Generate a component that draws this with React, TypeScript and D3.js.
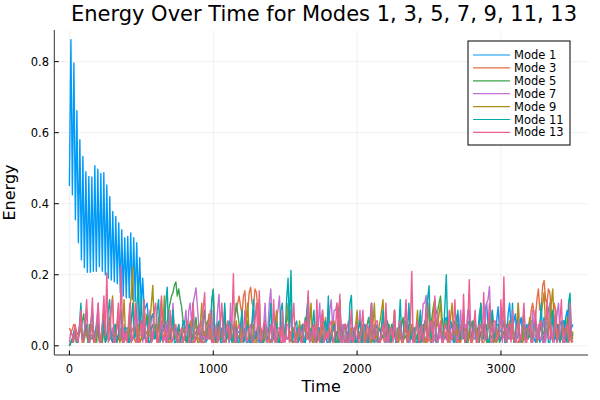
import React from 'react';
import * as d3 from 'd3';

const TITLE = 'Energy Over Time for Modes 1, 3, 5, 7, 9, 11, 13';
const X_LABEL = 'Time';
const Y_LABEL = 'Energy';
const X_TICKS = [0, 1000, 2000, 3000];
const Y_TICKS = [0, 0.2, 0.4, 0.6, 0.8];
const MODE_NAMES = ['Mode 1', 'Mode 3', 'Mode 5', 'Mode 7', 'Mode 9', 'Mode 11', 'Mode 13'];
const COLORS = ['#009AF9', '#E26F46', '#3DA44D', '#C371D2', '#AC8E18', '#00AAAE', '#ED5E93'];

// sampling of the time axis
const STEP = 10; // time units between samples (modes 3..13 and late mode 1)
const MODE1_EARLY_STEP = 10.4;
const MODE1_LATE_START = 540;

// Mode 1: early strongly oscillating phase (t = 0 .. 520)
const MODE1_EARLY = [
  0.45, 0.862, 0.425, 0.796, 0.355, 0.662, 0.29, 0.58, 0.242, 0.533,
  0.22, 0.49, 0.207, 0.477, 0.207, 0.475, 0.21, 0.507, 0.21, 0.497,
  0.223, 0.485, 0.21, 0.487, 0.2, 0.453, 0.19, 0.42, 0.185, 0.378,
  0.18, 0.364, 0.175, 0.346, 0.15, 0.327, 0.14, 0.304, 0.135, 0.308,
  0.135, 0.318, 0.13, 0.304, 0.125, 0.29, 0.12, 0.248, 0.11, 0.19, 0.1,
];
// Mode 1: late phase (t = 540 .. 3500)
const MODE1_LATE = [
  .12,.07,.04,.08,.09,.03,.02,.05,.06,.02,.03,.04,.05,.02,.01,.03,.04,.01,.02,.04,
  .05,.02,.01,.03,.03,.01,.02,.04,.04,.01,.01,.03,.03,.01,.02,.04,.05,.02,.01,.03,.03,.01,.02,.04,.04,.02,.01,.03,.03,.01,.02,.04,.05,.02,.01,.03,.04,.01,.02,.03,
  .03,.01,.01,.04,.04,.02,.02,.03,.05,.01,.01,.03,.03,.01,.02,.04,.04,.02,.01,.03,.03,.01,.02,.04,.05,.02,.01,.03,.04,.01,.02,.03,.03,.01,.01,.04,.05,.02,.02,.03,
  .04,.01,.01,.03,.03,.01,.02,.04,.05,.02,.01,.03,.04,.01,.02,.03,.03,.01,.01,.04,.05,.02,.02,.03,.04,.01,.01,.03,.03,.01,.02,.04,.04,.02,.01,.03,.05,.01,.02,.04,
  .03,.01,.01,.04,.05,.02,.02,.03,.04,.01,.01,.03,.03,.01,.02,.05,.06,.02,.01,.03,.04,.01,.02,.04,.05,.02,.01,.03,.03,.01,.02,.04,.04,.01,.01,.05,.06,.02,.02,.04,
  .04,.01,.01,.04,.05,.02,.02,.03,.03,.01,.01,.05,.06,.02,.02,.04,.04,.01,.01,.06,.07,.03,.02,.05,.05,.02,.03,.07,.08,.03,.02,.05,.06,.02,.03,.08,.09,.04,.02,.06,
  .07,.02,.03,.08,.1,.04,.02,.06,.08,.03,.04,.09,.11,.05,.03,.1,.12,.06,.05,.08,.09,.03,.02,.07,.11,.04,.04,.08,.1,.03,.03,.09,.12,.05,.05,.07,.09,.02,.03,.06,
  .08,.03,.02,.05,.06,.02,.03,.07,.07,.02,.01,.04,.05,.01,.02,.06,.08,.03,.03,.05,.06,.02,.02,.07,.09,.04,.03,.06,.07,.02,.02,.08,.1,.04,.03,.05,.06,
];
const MODE3 = [
  .05,.04,.045,.06,.055,.04,.03,.05,.04,.03,.02,.04,.05,.02,.01,.03,.03,.01,.02,.04,.04,.01,.01,.03,.03,.01,.02,.04,.05,.02,.01,.03,.04,.01,.02,.03,.03,.01,.01,.02,
  .03,.01,.02,.04,.05,.02,.01,.03,.04,.01,.02,.05,.06,.02,.01,.03,.03,.01,.02,.04,.05,.01,.01,.03,.04,.01,.02,.03,.03,.01,.01,.04,.05,.02,.02,.03,.04,.01,.01,.02,
  .03,.01,.02,.04,.05,.01,.01,.03,.04,.02,.02,.03,.03,.01,.01,.04,.05,.02,.02,.03,.04,.01,.01,.05,.06,.02,.02,.04,.03,.06,.05,.02,.02,.06,.04,.08,.1,.12,.14,.11,
  .09,.14,.155,.08,.1,.15,.165,.12,.11,.16,.15,.1,.07,.05,.04,.02,.02,.04,.05,.01,.01,.03,.04,.01,.02,.04,.03,.01,.01,.04,.05,.02,.02,.03,.04,.01,.01,.02,.03,.01,
  .05,.02,.02,.06,.04,.08,.1,.05,.03,.01,.06,.02,.01,.03,.04,.01,.02,.05,.08,.03,.03,.01,.05,.02,.01,.03,.04,.01,.02,.04,.06,.02,.01,.03,.03,.01,.02,.04,.05,.02,
  .01,.03,.04,.01,.02,.03,.03,.01,.01,.04,.05,.02,.02,.03,.04,.01,.01,.02,.03,.01,.02,.04,.06,.02,.01,.03,.04,.01,.02,.03,.03,.01,.01,.04,.05,.01,.02,.03,.04,.01,
  .01,.02,.03,.01,.02,.04,.05,.02,.01,.03,.04,.01,.02,.03,.03,.01,.01,.04,.05,.02,.02,.03,.04,.01,.01,.02,.03,.01,.02,.05,.06,.02,.01,.03,.04,.01,.02,.04,.03,.01,
  .01,.03,.05,.02,.02,.03,.04,.01,.01,.02,.03,.01,.02,.04,.05,.02,.01,.03,.04,.01,.02,.03,.03,.01,.01,.04,.06,.02,.02,.03,.04,.01,.01,.02,.03,.01,.02,.04,.05,.03,
  .06,.1,.12,.09,.08,.13,.16,.1,.11,.17,.184,.13,.12,.16,.15,.09,.07,.12,.1,.05,.03,.02,.05,.01,.01,.03,.04,.01,.02,.04,.03,
];
const MODE5 = [
  0,.01,.01,.02,.03,.01,.02,.04,.05,.07,.09,.03,.03,.01,.06,.02,.02,.04,.04,.01,.07,.02,.03,.01,.05,.02,.02,.05,.08,.02,.04,.01,.06,.02,.03,.01,.05,.02,.02,.04,
  .04,.01,.06,.02,.02,.04,.05,.01,.03,.05,.07,.02,.04,.06,.09,.03,.05,.02,.03,.05,.06,.03,.08,.04,.04,.07,.1,.05,.07,.1,.12,.14,.15,.17,.18,.14,.16,.13,.11,.07,
  .05,.02,.03,.01,.06,.02,.02,.05,.08,.03,.04,.01,.05,.02,.02,.06,.07,.02,.03,.01,.05,.02,.01,.04,.06,.02,.04,.01,.08,.03,.02,.05,.05,.01,.03,.08,.12,.09,.06,.04,
  .04,.01,.02,.05,.07,.02,.03,.01,.05,.02,.02,.04,.06,.02,.04,.01,.08,.03,.02,.04,.05,.01,.03,.06,.07,.02,.01,.04,.06,.02,.04,.07,.09,.03,.03,.01,.05,.02,.02,.04,
  .06,.02,.03,.05,.08,.02,.02,.04,.05,.01,.04,.02,.07,.03,.01,.04,.06,.02,.03,.05,.08,.01,.02,.04,.05,.02,.04,.01,.07,.03,.02,.05,.06,.02,.03,.01,.05,.02,.01,.04,
  .07,.02,.03,.01,.05,.02,.02,.06,.08,.03,.04,.01,.06,.02,.01,.04,.05,.02,.03,.05,.07,.01,.02,.04,.06,.02,.04,.01,.05,.03,.02,.06,.08,.02,.03,.01,.06,.03,.02,.04,
  .05,.02,.03,.05,.07,.01,.02,.04,.06,.02,.04,.06,.08,.11,.13,.09,.1,.12,.14,.08,.05,.02,.03,.01,.06,.02,.02,.05,.07,.02,.04,.01,.05,.03,.02,.04,.06,.01,.03,.05,
  .07,.02,.02,.04,.05,.01,.04,.02,.06,.03,.01,.05,.08,.02,.03,.01,.05,.02,.02,.06,.07,.03,.04,.01,.06,.02,.02,.04,.05,.01,.03,.06,.08,.02,.02,.05,.06,.01,.04,.02,
  .05,.02,.03,.06,.07,.02,.02,.04,.06,.03,.04,.07,.08,.1,.12,.09,.06,.03,.03,.01,.05,.02,.02,.05,.07,.02,.04,.01,.06,.03,.02,
];
const MODE7 = [
  0,.01,.02,.03,.04,.01,.01,.05,.06,.02,.03,.06,.1,.02,.02,.04,.05,.01,.04,.07,.12,.02,.02,.06,.1,.03,.03,.05,.07,.02,.05,.01,.02,.06,.1,.02,.04,.01,.06,.02,
  .03,.05,.07,.01,.02,.04,.05,.02,.12,.03,.03,.01,.06,.02,.02,.05,.1,.01,.04,.02,.05,.03,.01,.04,.07,.02,.03,.01,.06,.02,.02,.05,.12,.03,.04,.01,.05,.02,.02,.04,
  .06,.1,.03,.1,.12,.06,.12,.14,.163,.11,.05,.02,.07,.03,.02,.04,.06,.02,.04,.01,.1,.02,.03,.1,.145,.04,.02,.01,.06,.02,.04,.01,.12,.03,.03,.01,.05,.02,.02,.04,
  .07,.02,.03,.05,.05,.01,.02,.06,.1,.02,.04,.01,.06,.03,.01,.05,.12,.03,.05,.12,.16,.06,.04,.02,.07,.1,.14,.04,.03,.01,.06,.02,.02,.05,.1,.02,.04,.01,.05,.02,
  .02,.04,.06,.01,.03,.05,.1,.02,.04,.01,.05,.03,.02,.06,.12,.02,.03,.01,.06,.02,.04,.1,.13,.05,.1,.1,.12,.04,.03,.01,.06,.02,.02,.05,.07,.01,.04,.02,.05,.01,
  .03,.05,.1,.02,.02,.04,.06,.01,.04,.06,.12,.02,.03,.01,.05,.02,.01,.04,.07,.02,.04,.01,.06,.03,.02,.05,.1,.01,.03,.02,.05,.01,.02,.06,.12,.03,.04,.01,.06,.02,
  .03,.05,.07,.03,.05,.07,.12,.12,.142,.06,.04,.02,.06,.01,.02,.05,.1,.02,.03,.01,.05,.02,.02,.04,.07,.01,.04,.02,.06,.01,.02,.05,.1,.02,.03,.06,.05,.1,.1,.03,
  .04,.02,.07,.01,.03,.05,.06,.02,.02,.06,.12,.13,.167,.05,.04,.02,.06,.01,.02,.05,.1,.02,.03,.01,.05,.03,.02,.06,.07,.01,.04,.02,.12,.03,.03,.01,.06,.02,.02,.04,
  .05,.02,.1,.03,.03,.01,.06,.02,.02,.05,.07,.01,.04,.06,.12,.02,.03,.01,.05,.09,.12,.04,.04,.02,.06,.01,.02,.05,.1,.02,.03,
];
const MODE9 = [
  0,.01,.01,.02,.03,.01,.02,.04,.05,.01,.01,.03,.04,.01,.02,.05,.06,.02,.01,.04,.05,.01,.03,.06,.1,.02,.02,.05,.06,.1,.14,.03,.03,.05,.07,.01,.02,.06,.13,.03,
  .04,.02,.1,.15,.223,.05,.03,.02,.06,.01,.02,.05,.12,.03,.04,.02,.07,.12,.17,.04,.03,.01,.06,.1,.13,.05,.14,.03,.02,.01,.05,.03,.1,.02,.03,.01,.06,.02,.02,.04,
  .05,.01,.02,.04,.07,.02,.03,.05,.06,.01,.01,.06,.12,.03,.04,.02,.05,.09,.02,.12,.16,.04,.03,.01,.06,.02,.02,.05,.1,.01,.04,.02,.05,.03,.01,.04,.07,.02,.03,.01,
  .05,.01,.02,.06,.12,.02,.03,.05,.06,.01,.01,.07,.13,.03,.04,.02,.07,.01,.02,.04,.05,.02,.03,.06,.1,.01,.01,.04,.06,.02,.03,.07,.12,.01,.02,.05,.05,.02,.04,.01,
  .07,.01,.02,.04,.05,.02,.03,.06,.12,.01,.01,.05,.06,.02,.04,.01,.1,.02,.02,.05,.05,.01,.03,.06,.07,.01,.01,.1,.13,.02,.03,.05,.06,.01,.02,.04,.05,.01,.03,.06,
  .1,.02,.02,.05,.06,.01,.04,.02,.05,.01,.01,.06,.12,.02,.03,.05,.07,.1,.13,.03,.04,.02,.06,.01,.02,.05,.1,.02,.03,.01,.05,.02,.01,.04,.07,.01,.04,.02,.06,.01,
  .02,.05,.1,.02,.03,.05,.06,.01,.01,.06,.12,.02,.04,.1,.13,.05,.06,.09,.12,.04,.03,.05,.07,.01,.02,.08,.12,.03,.04,.02,.06,.01,.02,.05,.1,.02,.03,.01,.05,.02,
  .02,.04,.07,.02,.04,.06,.12,.02,.03,.05,.06,.01,.01,.05,.1,.02,.04,.01,.05,.02,.02,.07,.13,.03,.03,.05,.07,.02,.05,.01,.02,.06,.12,.02,.03,.01,.06,.02,.02,.05,
  .08,.02,.03,.05,.06,.01,.02,.06,.09,.12,.15,.05,.04,.03,.07,.12,.16,.05,.03,.02,.06,.01,.02,.04,.05,.02,.08,.03,.03,.01,.04,
];
const MODE11 = [
  0,.01,.02,.04,.05,.01,.01,.06,.12,.02,.02,.05,.06,.01,.01,.07,.1,.02,.03,.06,.05,.01,.01,.04,.07,.01,.02,.1,.13,.02,.01,.05,.06,.01,.03,.07,.1,.01,.02,.05,
  .05,.01,.01,.07,.12,.02,.03,.12,.18,.04,.14,.02,.02,.06,.07,.01,.01,.05,.06,.02,.03,.1,.13,.01,.02,.06,.05,.12,.165,.02,.02,.05,.1,.01,.01,.04,.06,.01,.03,.07,
  .07,.02,.01,.06,.05,.01,.12,.02,.02,.05,.06,.01,.01,.07,.1,.02,.03,.06,.05,.13,.158,.02,.02,.06,.07,.01,.01,.05,.12,.02,.03,.07,.06,.01,.02,.05,.05,.01,.01,.06,
  .1,.01,.02,.05,.06,.01,.01,.07,.13,.02,.03,.06,.05,.01,.01,.04,.07,.02,.02,.06,.12,.01,.03,.07,.06,.01,.01,.1,.12,.03,.04,.13,.19,.05,.212,.02,.03,.06,.07,.01,
  .02,.05,.06,.01,.01,.1,.14,.02,.03,.06,.1,.01,.02,.05,.05,.01,.01,.06,.07,.03,.14,.01,.02,.05,.06,.01,.01,.07,.12,.02,.03,.06,.05,.01,.02,.12,.142,.02,.04,.01,
  .01,.05,.07,.01,.03,.06,.05,.01,.01,.07,.12,.02,.02,.05,.06,.01,.01,.06,.1,.02,.03,.07,.05,.01,.02,.06,.07,.01,.01,.05,.13,.02,.03,.07,.06,.04,.12,.02,.02,.05,
  .05,.01,.01,.06,.1,.02,.03,.07,.06,.13,.169,.03,.02,.06,.07,.01,.01,.05,.05,.02,.03,.11,.2,.04,.04,.07,.06,.01,.01,.05,.1,.02,.02,.06,.05,.01,.01,.06,.07,.02,
  .03,.07,.06,.01,.01,.05,.12,.02,.02,.06,.05,.01,.01,.07,.1,.02,.03,.06,.06,.01,.02,.05,.07,.01,.01,.06,.05,.02,.12,.01,.02,.07,.06,.01,.01,.05,.1,.02,.03,.06,
  .05,.01,.01,.06,.07,.02,.02,.05,.12,.01,.03,.07,.06,.01,.01,.05,.1,.02,.02,.06,.05,.01,.03,.07,.07,.02,.01,.12,.148,.03,.03,
];
const MODE13 = [
  .01,.04,.03,.01,.06,.02,.01,.05,.1,.01,.02,.07,.13,.02,.01,.06,.135,.01,.02,.05,.12,.01,.01,.07,.14,.03,.205,.01,.02,.1,.13,.01,.01,.05,.12,.02,.225,.01,.02,.04,
  .01,.06,.12,.01,.02,.05,.12,.01,.01,.04,.07,.02,.13,.01,.01,.06,.06,.01,.02,.1,.12,.01,.01,.05,.14,.01,.03,.07,.01,.03,.1,.01,.02,.05,.06,.01,.01,.04,.05,.01,
  .02,.05,.07,.01,.01,.06,.12,.01,.02,.04,.06,.01,.01,.1,.15,.02,.02,.05,.1,.01,.01,.03,.06,.01,.02,.07,.12,.01,.01,.04,.07,.02,.02,.06,.203,.01,.01,.05,.06,.02,
  .01,.04,.1,.01,.02,.05,.06,.01,.01,.07,.12,.02,.155,.01,.02,.06,.07,.01,.01,.04,.06,.01,.13,.02,.01,.05,.05,.01,.1,.02,.01,.06,.06,.01,.02,.07,.12,.01,.01,.04,
  .05,.01,.01,.06,.07,.02,.155,.01,.02,.05,.06,.01,.13,.02,.01,.07,.1,.01,.02,.04,.01,.06,.07,.01,.02,.05,.12,.02,.145,.01,.01,.06,.06,.01,.01,.05,.1,.01,.02,.06,
  .06,.01,.01,.05,.1,.02,.01,.06,.05,.01,.12,.02,.02,.07,.07,.01,.01,.04,.06,.01,.12,.02,.01,.05,.05,.01,.1,.02,.01,.06,.07,.01,.02,.05,.13,.01,.02,.06,.209,.01,
  .01,.05,.07,.01,.02,.06,.01,.04,.12,.01,.02,.07,.06,.01,.14,.02,.01,.05,.07,.01,.01,.06,.05,.01,.1,.02,.02,.06,.13,.01,.01,.04,.06,.02,.145,.01,.02,.07,.186,.01,
  .02,.05,.1,.01,.01,.06,.06,.01,.15,.02,.02,.05,.12,.01,.01,.07,.07,.02,.02,.05,.13,.01,.194,.02,.01,.06,.06,.01,.1,.02,.01,.05,.07,.01,.02,.06,.12,.01,.01,.05,
  .06,.01,.01,.05,.1,.02,.02,.06,.07,.01,.01,.05,.13,.02,.02,.06,.01,.04,.1,.01,.02,.07,.13,.01,.01,.05,.06,.01,.12,.02,.01,
];

const W = 600;
const H = 400;
const PLOT = { left: 54.3, right: 588, top: 30, bottom: 355 };
const FONT = 'DejaVu Sans, sans-serif';

type Pt = [number, number];

export default function App() {
  const x = d3.scaleLinear().domain([-105, 3605]).range([PLOT.left, PLOT.right]);
  const y = d3.scaleLinear().domain([-0.0259, 0.889]).range([PLOT.bottom, PLOT.top]);

  const mode1: Pt[] = [
    ...MODE1_EARLY.map((v, k): Pt => [k * MODE1_EARLY_STEP, v]),
    ...MODE1_LATE.map((v, j): Pt => [MODE1_LATE_START + j * STEP, v]),
  ];
  const regular = (arr: number[]): Pt[] => arr.map((v, i): Pt => [i * STEP, v]);
  const series: Pt[][] = [mode1, regular(MODE3), regular(MODE5), regular(MODE7), regular(MODE9), regular(MODE11), regular(MODE13)];

  const line = d3.line<Pt>().x(d => x(d[0])).y(d => y(d[1]));

  const legend = { x: 468, y: 41, w: 102, h: 104, row: 12.9 };

  return (
    <svg width={W} height={H} style={{ position: 'absolute', left: 0, top: 0, background: '#fff' }} fontFamily={FONT}>
      <rect x={0} y={0} width={W} height={H} fill="#fff" />
      <defs>
        <clipPath id="clip">
          <rect x={PLOT.left} y={PLOT.top} width={PLOT.right - PLOT.left} height={PLOT.bottom - PLOT.top} />
        </clipPath>
      </defs>
      {/* grid */}
      {X_TICKS.map(t => (
        <line key={'gx' + t} x1={x(t)} x2={x(t)} y1={PLOT.top} y2={PLOT.bottom} stroke="#000" strokeOpacity={0.1} strokeWidth={0.6} />
      ))}
      {Y_TICKS.map(t => (
        <line key={'gy' + t} x1={PLOT.left} x2={PLOT.right} y1={y(t)} y2={y(t)} stroke="#000" strokeOpacity={0.1} strokeWidth={0.6} />
      ))}
      {/* series */}
      <g clipPath="url(#clip)">
        {series.map((s, i) => (
          <path key={i} d={line(s) || ''} fill="none" stroke={COLORS[i]} strokeWidth={1.4} strokeLinejoin="round" />
        ))}
      </g>
      {/* axes */}
      <line x1={PLOT.left} x2={PLOT.left} y1={PLOT.top} y2={PLOT.bottom} stroke="#000" strokeOpacity={0.8} strokeWidth={1} />
      <line x1={PLOT.left} x2={PLOT.right} y1={PLOT.bottom} y2={PLOT.bottom} stroke="#000" strokeOpacity={0.8} strokeWidth={1} />
      {X_TICKS.map(t => (
        <g key={'xt' + t}>
          <line x1={x(t)} x2={x(t)} y1={PLOT.bottom} y2={PLOT.bottom - 4.5} stroke="#000" strokeWidth={1} />
          <text x={x(t)} y={373} textAnchor="middle" fontSize={11.5} fill="#000">{String(t)}</text>
        </g>
      ))}
      {Y_TICKS.map(t => (
        <g key={'yt' + t}>
          <line x1={PLOT.left} x2={PLOT.left + 4.5} y1={y(t)} y2={y(t)} stroke="#000" strokeWidth={1} />
          <text x={49} y={y(t)} dy="0.35em" textAnchor="end" fontSize={11.5} fill="#000">{t.toFixed(1)}</text>
        </g>
      ))}
      <text x={(PLOT.left + PLOT.right) / 2} y={392} textAnchor="middle" fontSize={16} fill="#000">{X_LABEL}</text>
      <text transform={`translate(15, ${(PLOT.top + PLOT.bottom) / 2}) rotate(-90)`} textAnchor="middle" fontSize={16} fill="#000">{Y_LABEL}</text>
      <text x={324} y={21} textAnchor="middle" fontSize={21} fill="#000">{TITLE}</text>
      {/* legend */}
      <rect x={legend.x} y={legend.y} width={legend.w} height={legend.h} fill="#fff" stroke="#000" strokeWidth={1} />
      {MODE_NAMES.map((name, i) => {
        const ly = legend.y + 14 + i * legend.row;
        return (
          <g key={name}>
            <line x1={legend.x + 5} x2={legend.x + 42} y1={ly} y2={ly} stroke={COLORS[i]} strokeWidth={1.2} />
            <text x={legend.x + 46} y={ly} dy="0.35em" fontSize={11.5} fill="#000">{name}</text>
          </g>
        );
      })}
    </svg>
  );
}
